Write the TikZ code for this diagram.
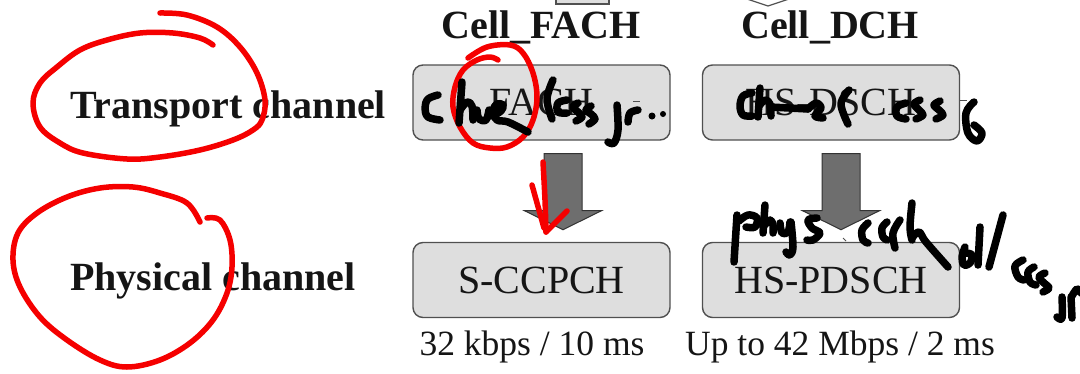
\documentclass[tikz,border=0pt]{standalone}
\usepackage{fontspec}
\setmainfont{Liberation Serif}
\usetikzlibrary{calc}
\definecolor{boxfill}{HTML}{DEDEDE}
\definecolor{boxedge}{HTML}{505050}
\definecolor{arrowfill}{HTML}{6E6E6E}
\definecolor{arrowedge}{HTML}{333333}
\definecolor{pen}{HTML}{F50000}
\definecolor{ink}{HTML}{000000}
\definecolor{txt}{HTML}{151515}

\begin{document}
\begin{tikzpicture}[x=1pt,y=-1pt,
  chanbox/.style={draw=boxedge, fill=boxfill, line width=1.4pt, rounded corners=10pt,
    minimum width=257pt, minimum height=75pt, inner sep=0pt,
    font=\fontsize{40}{48}\selectfont, text=txt},
  rowlabel/.style={anchor=base west, inner sep=0pt, font=\fontsize{40}{48}\selectfont\bfseries, text=txt},
  statelabel/.style={anchor=base, inner sep=0pt, font=\fontsize{40}{48}\selectfont\bfseries, text=txt},
  ratelabel/.style={anchor=base, inner sep=0pt, font=\fontsize{35.5}{42}\selectfont, text=txt},
  blockarr/.style={draw=arrowedge, fill=arrowfill, line width=1pt, line join=miter},
  redpen/.style={draw=pen, line width=5.5pt, line cap=round, line join=round},
  inkpen/.style={draw=ink, line width=7.5pt, line cap=round, line join=round},
  sm/.style={smooth, tension=0.6}]
\useasboundingbox (0,0) rectangle (1080,373);
\fill[white] (0,0) rectangle (1080,373);

% shapes cut off at the top edge
\draw[draw=boxedge, fill=boxfill, line width=1.2pt] (556,-8) rectangle (609,4);
\draw[draw=boxedge, line width=1.2pt] (744,-2) -- (768,6) -- (792,-2);

% state headings
\node[statelabel] (cellfach) at (541,38) {Cell\_FACH};
\node[statelabel] (celldch)  at (830,38) {Cell\_DCH};

% row headings
\node[rowlabel] (transport) at (70,118) {Transport channel};
\node[rowlabel] (physical)  at (70,290) {Physical channel};

% channel boxes
\node[chanbox] (fach)  at (541.5,102.5) {FACH};
\node[chanbox] (hsdsch) at (831,102.5) {HS-DSCH};
\node[chanbox] (sccpch) at (541.5,280) {S-CCPCH};
\node[chanbox] (hspdsch) at (831,280) {HS-PDSCH};

% small marks at the upper right of the transport channel names
\draw[boxedge, line width=1pt] (633,101) -- (640,101);
\draw[boxedge, line width=1pt] (960,100) -- (967,100);

% mapping arrows
\draw[blockarr] ($(fach.south)+(2.5,13)$) -- ++(38,0) -- ++(0,57) -- ++(19.5,0)
  -- ++(-38.5,19) -- ++(-38.5,-19) -- ++(19.5,0) -- cycle;
\draw[blockarr] ($(hsdsch.south)+(-9,13)$) -- ++(38,0) -- ++(0,57) -- ++(19.5,0)
  -- ++(-38.5,19) -- ++(-38.5,-19) -- ++(19.5,0) -- cycle;

% rates
\node[ratelabel] (rate1) at (532,355) {32 kbps / 10 ms};
\node[ratelabel] (rate2) at (840,355) {Up to 42 Mbps / 2 ms};

% red marker notes
\draw[redpen] plot[sm] coordinates {(160,13) (187,15) (217,27) (240,47) (257,73) (265,100)
  (262,120) (253,130) (233,140) (200,150) (160,157) (127,159) (83,153) (60,143) (40,127)
  (33,103) (40,83) (57,67) (80,50) (107,40) (140,33) (173,33) (200,38) (213,45)};
\draw[redpen] plot[sm] coordinates {(207,218) (220,220) (230,240) (232,267) (227,293)
  (213,320) (190,343) (160,360) (127,367) (100,360) (67,340) (40,317) (20,287) (13,260)
  (18,233) (37,213) (67,197) (100,188) (133,187) (160,193) (187,203) (200,222)};
\draw[redpen] plot[sm] coordinates {(468,58) (487,47) (510,45) (523,53) (533,73) (537,97)
  (533,120) (523,137) (507,147) (490,148) (473,143) (460,127) (453,107) (455,87) (463,70)
  (477,60) (490,57) (498,60)};
\draw[redpen] plot[sm] coordinates {(543,162) (545,200) (546,232)};
\draw[redpen] (532,185) -- (544,228);
\draw[redpen] (546,232) -- (567,211);

% black ink notes over the transport channels
\draw[inkpen] plot[sm] coordinates {(438,95) (428,99) (425,108) (428,117) (440,120)};
\draw[inkpen] (462,82) -- (459,123);
\draw[inkpen] plot[sm] coordinates {(460,110) (467,102) (472,106) (473,120)};
\draw[inkpen] plot[sm] coordinates {(477,110) (479,119) (486,120) (489,110)};
\draw[inkpen] plot[sm] coordinates {(492,116) (501,111) (503,105) (497,104) (493,111) (497,120) (508,122) (528,132)};
\draw[inkpen] plot[sm] coordinates {(553,80) (547,99) (552,119)};
\draw[inkpen] plot[sm] coordinates {(567,100) (558,103) (558,112) (567,113)};
\draw[inkpen] plot[sm] coordinates {(578,103) (573,107) (578,112) (582,117) (576,121)};
\draw[inkpen] plot[sm] coordinates {(591,106) (586,110) (591,114) (595,119) (589,124)};
\draw[inkpen] plot[sm] coordinates {(617,105) (618,130) (614,143) (608,142)};
\draw[inkpen] plot[sm] coordinates {(628,122) (630,113) (638,110)};
\fill[ink] (652,116) circle (3.5pt) (663,114) circle (3pt);

\draw[inkpen] plot[sm] coordinates {(752,93) (743,96) (740,106) (743,115) (752,116)};
\draw[inkpen] (760,88) -- (758,117);
\draw[inkpen] plot[sm] coordinates {(759,106) (765,100) (770,104) (771,116)};
\draw[inkpen] (770,107) -- (808,109);
\draw[inkpen] plot[sm] coordinates {(808,109) (816,103) (821,108) (815,116) (823,118)};
\draw[inkpen] plot[sm] coordinates {(849,90) (841,104) (848,124)};
\draw[inkpen] plot[sm] coordinates {(906,103) (897,107) (897,116) (906,119)};
\draw[inkpen] plot[sm] coordinates {(920,100) (914,104) (919,110) (923,115) (916,119)};
\draw[inkpen] plot[sm] coordinates {(940,101) (934,105) (939,110) (943,115) (936,119)};
\draw[inkpen] plot[sm] coordinates {(974,102) (966,113) (968,133) (977,141) (982,133) (974,125)};

% black ink notes over the physical channel
\draw[inkpen] (737,215) -- (734,262);
\draw[inkpen] plot[sm] coordinates {(739,221) (748,215) (757,218) (755,227) (746,227)};
\draw[inkpen] (765,205) -- (763,233);
\draw[inkpen] plot[sm] coordinates {(763,227) (770,220) (773,225) (773,233)};
\draw[inkpen] plot[sm] coordinates {(780,223) (782,233) (788,232) (790,222)};
\draw[inkpen] plot[sm] coordinates {(791,222) (793,247) (790,255) (786,252)};
\draw[inkpen] plot[sm] coordinates {(817,218) (808,220) (812,228) (820,233) (813,240) (807,240)};
\draw[boxedge, line width=1pt] (843,238) -- (846,241);
\draw[inkpen] plot[sm] coordinates {(868,223) (862,230) (863,240) (868,243)};
\draw[inkpen] plot[sm] coordinates {(887,222) (882,228) (883,237) (887,240)};
\draw[inkpen] plot[sm] coordinates {(900,220) (893,233) (895,248)};
\draw[inkpen] plot[sm] coordinates {(912,203) (910,227) (912,240)};
\draw[inkpen] plot[sm] coordinates {(912,238) (919,232) (926,242) (948,267)};
\draw[inkpen] plot[sm] coordinates {(965,247) (962,257) (964,265) (970,263) (972,255) (966,253)};
\draw[inkpen] (980,227) -- (978,265);
\draw[inkpen] (1003,215) -- (989,267);
\draw[inkpen] plot[sm] coordinates {(1023,260) (1015,266) (1018,277) (1024,280)};
\draw[inkpen] plot[sm] coordinates {(1034,267) (1028,272) (1030,282) (1036,285)};
\draw[inkpen] plot[sm] coordinates {(1045,273) (1039,277) (1044,283) (1049,288) (1043,292)};
\draw[inkpen] plot[sm] coordinates {(1062,297) (1062,318) (1057,317)};
\draw[inkpen] (1071,297) -- (1072,318);
\draw[inkpen] plot[sm] coordinates {(1072,296) (1077,289) (1081,293)};
\end{tikzpicture}
\end{document}
